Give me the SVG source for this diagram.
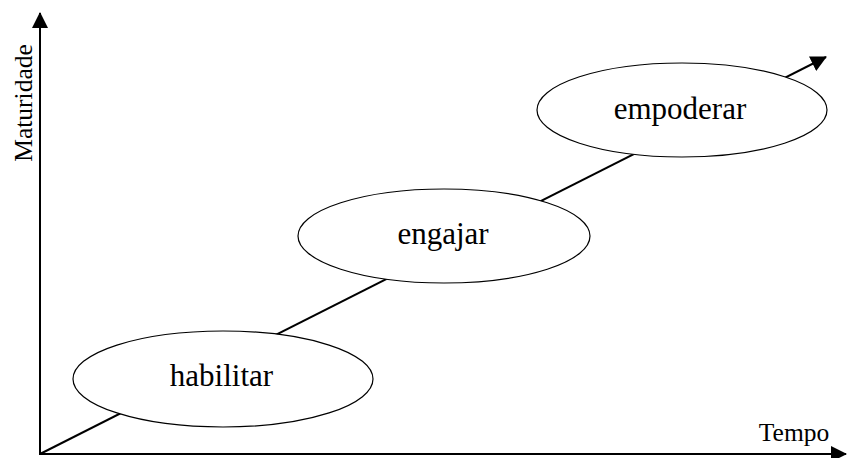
<svg xmlns="http://www.w3.org/2000/svg" width="848" height="458" viewBox="0 0 848 458">
  <style>
    .axis { stroke: #000; stroke-width: 2; fill: none; }
    .stage { fill: #fff; stroke: #000; stroke-width: 1.2; }
    .lbl { font-family: "Liberation Serif", "Times New Roman", serif; fill: #000; }
    .big { font-size: 31px; }
    .small { font-size: 25.5px; }
  </style>
  <defs>
    <marker id="arrowBig" markerWidth="16" markerHeight="16" refX="15" refY="8" orient="auto" markerUnits="userSpaceOnUse" viewBox="0 0 16 16">
      <path d="M0,0 L16,8 L0,16 Z" fill="#000"/>
    </marker>
  </defs>

  <g id="connectors">
    <line class="axis" x1="40" y1="455" x2="40" y2="13" marker-end="url(#arrowBig)"/>
    <line class="axis" x1="39" y1="454" x2="846" y2="454" marker-end="url(#arrowBig)"/>
    <line class="axis" x1="40" y1="454" x2="826" y2="57" marker-end="url(#arrowBig)"/>
  </g>

  <g id="axis-labels">
    <text class="lbl small" transform="translate(32,103) rotate(-90)" text-anchor="middle">Maturidade</text>
    <text class="lbl small" x="794" y="441" text-anchor="middle">Tempo</text>
  </g>

  <g id="habilitar">
    <ellipse class="stage" cx="223" cy="379" rx="150" ry="48"/>
    <text class="lbl big" x="221.5" y="386" text-anchor="middle">habilitar</text>
  </g>

  <g id="engajar">
    <ellipse class="stage" cx="444" cy="236" rx="146" ry="47"/>
    <text class="lbl big" x="443" y="244" text-anchor="middle">engajar</text>
  </g>

  <g id="empoderar">
    <ellipse class="stage" cx="682" cy="110" rx="145" ry="47"/>
    <text class="lbl big" x="680" y="119" text-anchor="middle">empoderar</text>
  </g>
</svg>
